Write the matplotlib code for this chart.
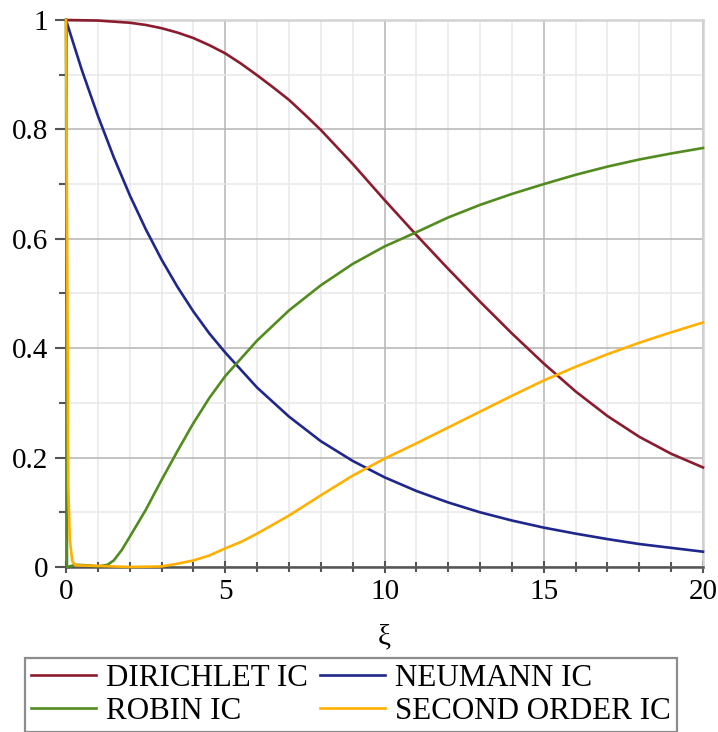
import matplotlib
matplotlib.use("Agg")
import matplotlib.pyplot as plt
from matplotlib.ticker import MultipleLocator

# values
dir_x = [0, 1, 2, 2.5, 3, 3.5, 4, 4.5, 5, 5.5, 6, 6.5, 7, 7.5, 8, 9, 10, 11, 12, 13, 14, 15,
         16, 17, 18, 19, 20]
dir_y = [1.0, 0.999, 0.995, 0.991, 0.985, 0.977, 0.967, 0.954, 0.939, 0.920, 0.899, 0.877,
         0.854, 0.827, 0.799, 0.737, 0.671, 0.607, 0.545, 0.485, 0.427, 0.372, 0.321, 0.276,
         0.238, 0.207, 0.182]

neu_x = [0, 0.5, 1, 1.5, 2, 2.5, 3, 3.5, 4, 4.5, 5, 6, 7, 8, 9, 10, 11, 12, 13, 14, 15,
         16, 17, 18, 19, 20]
neu_y = [1.0, 0.908, 0.825, 0.749, 0.680, 0.618, 0.562, 0.512, 0.467, 0.427, 0.392, 0.328,
         0.275, 0.230, 0.194, 0.164, 0.139, 0.118, 0.1, 0.085, 0.072, 0.061, 0.051, 0.042,
         0.035, 0.028]

rob_x = [0, 0.03, 0.3, 0.7, 1.0, 1.3, 1.5, 1.75, 2, 2.5, 3, 3.5, 4, 4.5, 5, 6, 7, 8, 9, 10,
         11, 12, 13, 14, 15, 16, 17, 18, 19, 20]
rob_y = [1.0, 0.0, 0.004, 0.003, 0.001, 0.004, 0.012, 0.031, 0.055, 0.104, 0.159, 0.212,
         0.263, 0.309, 0.349, 0.414, 0.469, 0.515, 0.554, 0.586, 0.612, 0.639, 0.662, 0.682,
         0.70, 0.717, 0.732, 0.745, 0.756, 0.766]

sec_x = [0, 0.04, 0.07, 0.12, 0.2, 0.3, 1, 2, 3, 3.5, 4, 4.5, 5, 5.5, 6, 7, 8, 9, 10,
         11, 12, 13, 14, 15, 16, 17, 18, 19, 20]
sec_y = [1.0, 0.55, 0.15, 0.05, 0.01, 0.003, 0.002, 0.0, 0.001, 0.006, 0.012, 0.021, 0.034,
         0.046, 0.061, 0.094, 0.131, 0.167, 0.198, 0.226, 0.255, 0.284, 0.313, 0.341, 0.366,
         0.389, 0.41, 0.429, 0.447]

labels = ["DIRICHLET IC", "NEUMANN IC", "ROBIN IC", "SECOND ORDER IC"]
colors = ["#8b1c2e", "#1f278c", "#528c1f", "#ffb000"]

plt.rcParams["font.family"] = ["Liberation Serif", "DejaVu Serif"]
plt.rcParams["font.size"] = 21

fig = plt.figure(figsize=(7.18, 7.32), dpi=100)
ax = fig.add_axes([66 / 718, 1 - 567 / 732, 637 / 718, 547 / 732])

lines = []
for xs, ys, lab, col in zip([dir_x, neu_x, rob_x, sec_x], [dir_y, neu_y, rob_y, sec_y],
                            labels, colors):
    ln, = ax.plot(xs, ys, color=col, lw=1.9, label=lab, clip_on=False, zorder=3)
    lines.append(ln)

ax.set_xlim(0, 20)
ax.set_ylim(0, 1)
ax.xaxis.set_major_locator(MultipleLocator(5))
ax.xaxis.set_minor_locator(MultipleLocator(1))
ax.yaxis.set_major_locator(MultipleLocator(0.2))
ax.yaxis.set_minor_locator(MultipleLocator(0.1))
ax.yaxis.set_major_formatter(plt.FuncFormatter(lambda v, p: f"{v:g}"))

ax.grid(True, which="major", color="#b4b4b4", lw=1.1)
ax.grid(True, which="minor", color="#e8e8e8", lw=1.1)
ax.set_axisbelow(True)

for side in ["left", "bottom"]:
    ax.spines[side].set_color("#555555")
    ax.spines[side].set_linewidth(1.8)
for side in ["top", "right"]:
    ax.spines[side].set_color("#d2d2d2")
    ax.spines[side].set_linewidth(1.8)

ax.tick_params(axis="y", which="major", direction="out", length=8, width=1.5, color="#555555", pad=5)
ax.tick_params(axis="y", which="minor", direction="out", length=5, width=1.5, color="#555555")
ax.tick_params(axis="x", which="major", direction="inout", length=9, width=1.5, color="#555555", pad=4)
ax.tick_params(axis="x", which="minor", direction="inout", length=7, width=1.5, color="#555555")

ax.set_xlabel("ξ", labelpad=14)

# legend rows: DIRICHLET | NEUMANN, ROBIN | SECOND ORDER (matplotlib fills by column)
order = [0, 2, 1, 3]
leg = fig.legend(handles=[lines[i] for i in order], labels=[labels[i] for i in order],
                 ncol=2, loc="upper left",
                 bbox_to_anchor=(25 / 718, 1 - 658 / 732), borderaxespad=0,
                 fancybox=False, frameon=True, handlelength=2.1, handletextpad=0.33,
                 columnspacing=0.4, labelspacing=0.15, borderpad=0.18, fontsize=22.3)
leg.get_frame().set_edgecolor("#707070")
leg.get_frame().set_linewidth(1.6)

fig.savefig("out.png", dpi=100)
